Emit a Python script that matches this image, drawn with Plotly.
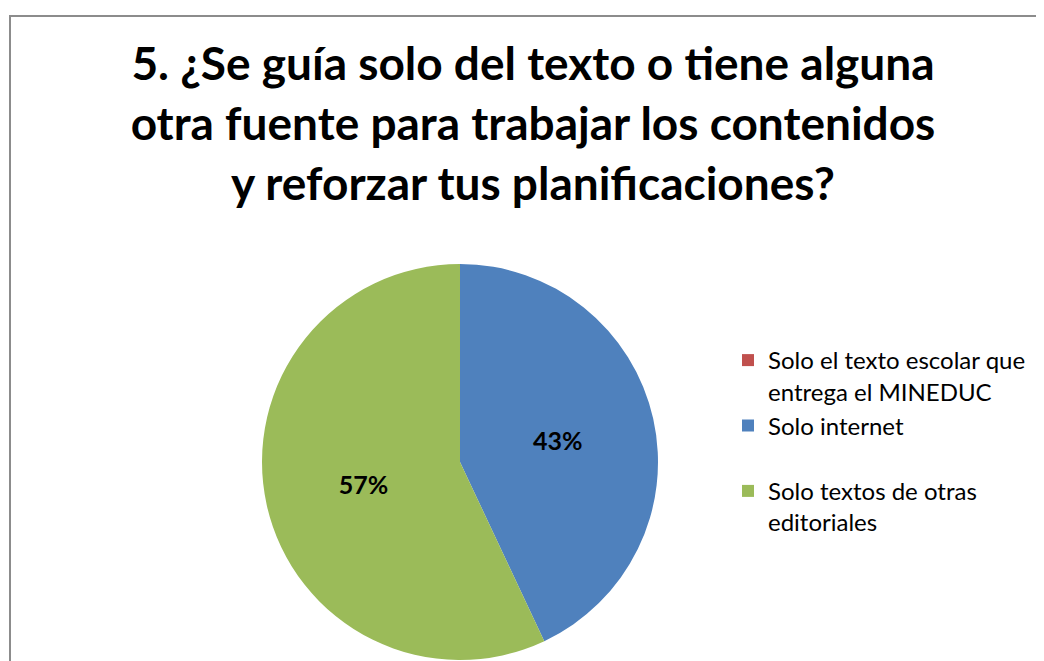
import plotly.graph_objects as go

categories = ["Solo el texto escolar que<br>entrega el MINEDUC", "Solo internet<br> ", "Solo textos de otras<br>editoriales"]
values = [0, 43, 57]
labels_text = ["", "43%", "57%"]
colors = ["#C0504D", "#4F81BD", "#9BBB59"]
title_text = "5. ¿Se guía solo del texto o tiene alguna<br>otra fuente para trabajar los contenidos<br>y reforzar tus planificaciones?"

# page has an 8px body margin; figure sized to fit the window
OFF = 8
W, H = 1036, 653


def px(x):
    return (x - OFF) / W


def py(y):
    return min(1.0, max(0.0, 1 - (y - OFF) / H))


fig = go.Figure(go.Pie(
    labels=categories,
    values=values,
    text=labels_text,
    textinfo="text",
    textposition="inside",
    insidetextorientation="horizontal",
    textfont=dict(family="Lato", size=25, color="black", weight="bold"),
    marker=dict(colors=colors, line=dict(width=0)),
    sort=False,
    direction="clockwise",
    rotation=0,
    domain=dict(x=[px(262), px(658)], y=[py(660), py(264)]),
    hoverinfo="label+percent",
))

fx0, fy1 = px(10), py(16)
fig.update_layout(
    width=W, height=H,
    margin=dict(l=0, r=0, t=0, b=0),
    paper_bgcolor="white",
    plot_bgcolor="white",
    title=dict(
        text=title_text,
        x=px(533), xanchor="center",
        y=py(80), yanchor="top",
        font=dict(family="Lato", size=46, color="black", weight="bold"),
    ),
    legend=dict(
        x=px(728), xanchor="left",
        y=py(338), yanchor="top",
        font=dict(family="Lato", size=24, color="black"),
        valign="top",
        itemclick=False,
    ),
    shapes=[dict(
        type="path", xref="paper", yref="paper",
        path=f"M {fx0},0 L {fx0},{fy1} L 1,{fy1}",
        line=dict(color="#8c8c8c", width=2),
        layer="below",
    )],
)

fig.write_html("out.html")
